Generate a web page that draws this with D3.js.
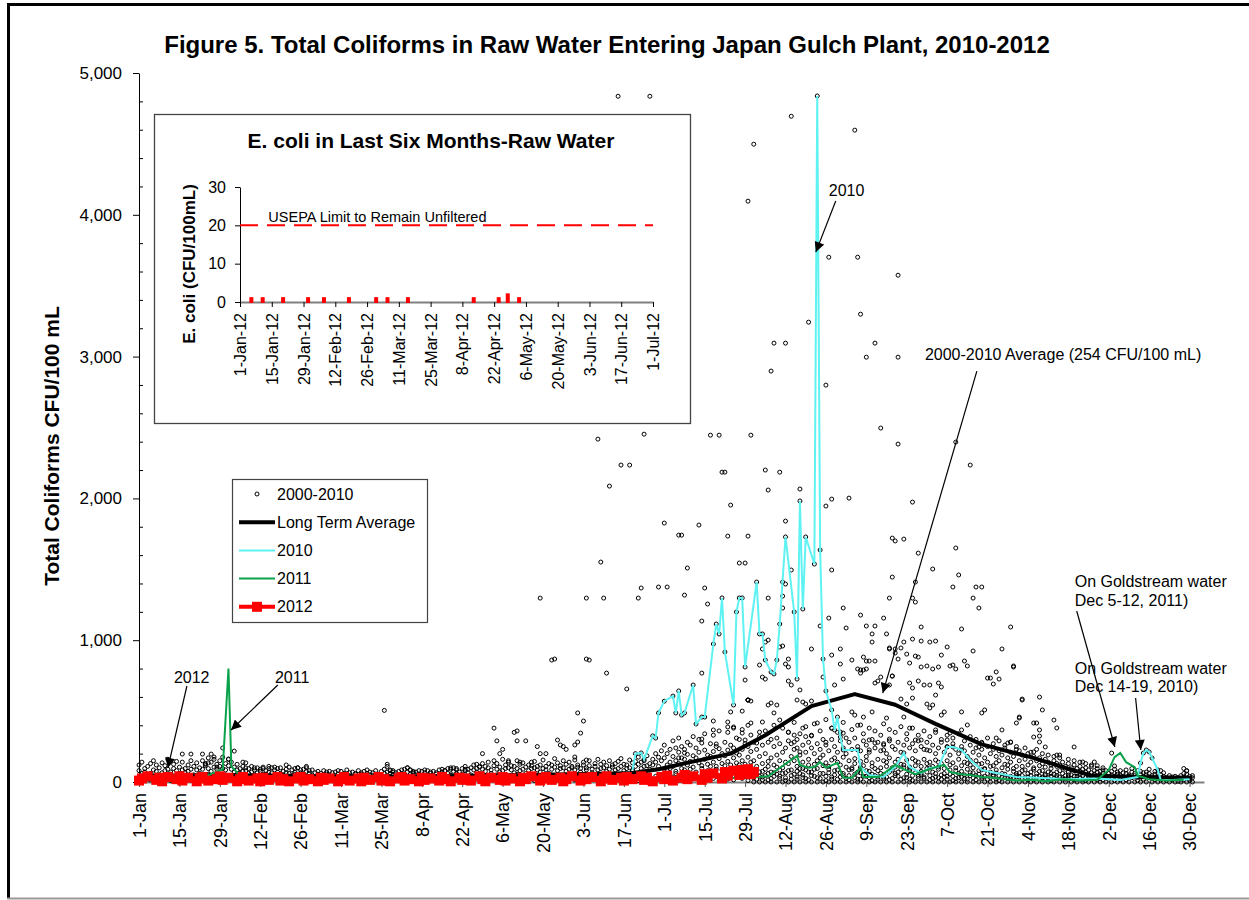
<!DOCTYPE html>
<html>
<head>
<meta charset="utf-8">
<title>Figure 5. Total Coliforms in Raw Water Entering Japan Gulch Plant</title>
<script src="https://cdn.jsdelivr.net/npm/d3@7"></script>
<style>
  html, body { margin: 0; padding: 0; background: #fff; }
  svg { display: block; font-family: "Liberation Sans", Arial, sans-serif; }
</style>
</head>
<body>
<div id="chart"></div>
<script>
// ---- data (day of year: 0 = 1-Jan) ----
const xTickLabels = ["1-Jan","15-Jan","29-Jan","12-Feb","26-Feb","11-Mar","25-Mar","8-Apr","22-Apr",
  "6-May","20-May","3-Jun","17-Jun","1-Jul","15-Jul","29-Jul","12-Aug","26-Aug","9-Sep","23-Sep",
  "7-Oct","21-Oct","4-Nov","18-Nov","2-Dec","16-Dec","30-Dec"];
const yTicks = [0, 1000, 2000, 3000, 4000, 5000];

// 2000-2010 samples, the dense low band: one list of values per day
const lowBand = [
  // Jan
  [30,80,120],[10,60,140],[45,95,70],[20,110,55],[60,130,15],[35,85,150],[5,75,120],
  [50,100,25],[15,65,135],[40,115,80],[25,90,160],[55,70,10],[30,125,95],[10,80,145],
  [45,105,60],[20,140,85],[65,95,30],[35,120,75],[15,90,150],[50,110,40],[25,135,85],
  [60,100,15],[40,150,90],[10,115,130],[55,95,170],[30,140,75],[20,105,160],[45,125,90],
  [35,150,110],[15,95,175],[50,130,85],
  // Feb
  [25,115,160],[40,90,140],[10,105,70],[55,125,85],[30,95,60],[20,110,75],[45,80,100],
  [15,95,60],[35,70,110],[50,85,25],[10,100,65],[40,75,90],[25,105,55],[55,80,15],
  [30,95,70],[20,65,100],[45,85,30],[15,70,95],[35,100,60],[50,75,20],[10,90,65],
  [40,60,105],[25,85,45],[55,70,95],[30,100,15],[20,65,85],[45,90,55],[15,75,100],[35,60,80],
  // Mar - Apr
  [50,85,20],[10,65,40],[30,75,55],[45,60,15],[20,80,35],[55,70,10],[25,50,75],
  [40,65,15],[15,70,45],[35,55,80],[50,75,20],[10,60,40],[30,85,55],[45,65,15],
  [20,70,40],[55,60,25],[35,80,10],[15,55,65],[40,75,30],[25,60,85],[50,70,15],
  [10,65,45],[30,80,55],[45,55,20],[20,75,40],[35,90,60],[15,70,110],[40,60,85],
  [25,80,50],[50,65,20],[10,75,45],[30,60,85],[45,90,15],[20,70,100],[35,85,55],
  [15,60,75],[50,70,30],[25,55,80],[40,75,10],[10,65,85],[30,80,45],[45,60,70],
  [20,75,35],[55,65,15],[35,85,50],[15,70,90],[40,80,25],[25,60,95],[50,90,45],
  [10,75,100],[30,85,60],[45,70,20],[20,95,55],[35,80,110],[15,65,90],[50,100,40],
  [25,85,120],[40,70,95],[10,105,60],[30,90,130],[45,75,110],
  // May
  [20,100,140],[35,85,60],[15,115,150],[50,90,130],[25,105,70],[40,80,160],[10,120,95],
  [30,100,140],[45,85,115],[20,110,65],[55,95,150],[35,125,80],[15,90,135],[40,105,60],
  [25,80,120],[50,115,95],[10,100,145],[30,85,110],[45,120,70],[20,95,155],[35,110,85],
  [15,130,60],[50,90,120],[25,105,165],[40,80,135],[10,115,95],[30,100,150],[45,125,75],
  [20,90,140],[35,110,100],[15,85,155],
  // Jun
  [40,105,120],[25,95,70],[50,120,140],[10,100,85],[30,115,150],[45,90,65],[20,110,130],
  [35,85,160],[15,125,95],[40,100,140],[25,115,75],[50,90,150],[10,105,120],[30,130,85],
  [45,95,145],[20,110,165],[35,80,125],[15,120,95],[40,100,155],[25,135,80],[50,110,145],
  [10,125,175],[30,95,140],[45,150,110],[20,115,185],[35,130,90],[15,160,120],[40,140,200],
  [25,175,110],[50,150,220],
  // Jul
  [20,90,170,260],[45,120,200,80],[10,140,230,95],[35,110,180,290],[60,150,240,75],[15,130,210,310],[40,95,170,250],
  [25,160,230,85],[55,120,195,280],[10,145,260,90],[30,105,185,320],[50,170,240,70],[20,135,210,300],[45,115,275,95],
  [15,160,225,340],[35,125,190,80],[60,180,270,110],[25,140,215,330],[40,110,250,90],[10,165,235,360],[55,130,200,85],
  [30,185,280,115],[20,145,225,350],[45,120,260,95],[15,170,240,380],[35,135,205,100],[50,190,300,120],[25,150,230,370],
  [40,125,270,90],[10,175,250,400],[60,140,215,110],
  // Aug - Sep
  [0,60,150,280,30],[20,110,230,90,50],[0,40,180,320,70],[35,130,260,75,15],[0,90,200,360,45],[15,145,280,60,110],[0,70,170,300,25],
  [40,120,250,400,65],[0,55,190,310,105],[25,150,270,85,40],[0,100,210,380,60],[10,65,240,140,30],[0,130,290,350,80],[45,85,180,270,20],
  [0,150,230,420,55],[20,110,300,75,35],[0,60,190,340,95],[30,140,260,95,50],[0,85,210,390,25],[15,160,280,120,70],[0,70,240,330,45],
  [40,125,200,410,90],[0,95,270,150,30],[25,170,230,360,60],[0,60,190,300,115],[10,135,280,440,40],[0,110,220,90,65],[35,155,300,380,20],
  [0,80,250,170,50],[20,140,210,350,85],[0,65,290,120,35],[45,175,240,420,60],[0,105,200,310,25],[15,150,280,85,45],[0,90,230,370,100],
  [30,165,310,130,55],[0,70,250,400,20],[20,145,220,95,65],[0,115,290,340,40],[40,180,260,150,80],[0,75,210,380,30],[10,135,300,110,55],
  [0,95,240,360,45],[35,160,280,80,20],[0,60,220,330,100],[25,150,270,410,50],[0,110,200,140,35],[15,170,290,370,70],[0,85,250,100,25],
  [45,140,230,350,60],[0,70,280,160,40],[20,125,210,390,90],[0,100,260,120,30],[30,155,300,340,55],[0,80,240,90,20],[10,165,270,380,45],
  [0,115,220,150,65],[40,140,290,330,25],[0,75,250,110,50],[25,160,230,360,35],[0,95,280,130,70],
  // Oct
  [15,140,220,320,45],[0,70,260,110,25],[35,155,200,350,60],[0,90,240,140,30],[20,130,280,300,50],[0,60,210,95,35],[40,150,250,330,20],
  [0,85,190,120,55],[10,135,270,310,40],[0,100,230,80,25],[30,160,200,340,60],[0,75,250,115,35],[25,140,220,290,50],[0,90,180,130,20],
  [45,120,260,320,65],[0,65,210,100,30],[15,150,240,300,45],[0,80,190,125,55],[35,130,230,280,25],[0,95,170,90,40],[20,140,250,310,60],
  [0,70,200,110,30],[40,115,230,270,50],[0,85,180,135,20],[10,150,220,290,45],[0,60,190,100,35],[30,125,240,260,55],[0,90,170,120,25],
  [25,140,210,280,40],[0,75,180,95,30],[45,110,230,250,60],
  // Nov
  [0,65,150,220,35],[20,110,190,80,45],[0,85,160,240,30],[35,120,200,60,15],[0,70,140,210,45],[15,100,180,90,30],[0,60,150,230,40],
  [40,115,170,75,20],[0,80,130,200,35],[25,105,160,55,45],[0,70,140,190,30],[10,95,120,60,40],[0,55,150,180,25],[30,110,130,70,45],
  [0,80,120,170,35],[20,60,100,140,30],[0,90,110,45,20],[35,70,130,160,50],[0,50,100,85,25],[15,80,120,150,40],[0,60,95,40,20],
  [25,75,110,140,35],[0,45,90,65,15],[10,70,100,130,30],[0,55,85,30,45],[20,65,110,120,25],[0,40,80,55,30],[30,70,95,115,15],
  [0,50,75,25,40],[15,60,100,85,30],
  // Dec
  [0,45,80],[20,60,35],[0,75,50],[10,40,90],[0,55,70],[25,80,45],[0,35,65],
  [15,60,85],[0,50,40],[30,70,95],[0,45,60],[10,80,35],[0,55,75],[20,40,65],
  [0,70,50],[35,60,90],[0,45,30],[15,75,55],[0,35,60],[25,50,80],[0,65,40],
  [10,30],[0,45],[20,35],[0,40],[5,30],[0,45,20],[15,35,60],
  [0,55,80],[10,40,25],[0,30,45]
];

// 2000-2010 samples above the low band: [day, CFU/100 mL]
const obsHigh = [
  [15,197],[18,197],[22,197],[25,197],[26,176],[29,240],[33,218],[23,125],[24,135],[31,162],[36,140],[37,135],
  [27,105],[40,100],[43,95],[45,110],[47,105],[51,120],[55,100],[58,110],[85,505],[86,125],[87,80],[88,70],
  [93,100],[94,85],[95,70],[106,80],[108,100],[110,95],[113,90],[117,125],[119,200],[118,110],
  [123,380],[124,290],[125,200],[126,230],[128,150],[130,350],[131,360],[131,290],[132,140],[134,290],[136,140],
  [138,250],[139,200],[141,200],[139,1297],[143,860],[144,867],[145,296],[146,261],[147,250],[148,230],[151,176],
  [151,261],[152,487],[152,282],[153,345],[154,430],[155,867],[155,155],
  [155,1297],[156,860],[159,2418],[160,1551],[161,1297],[162,768],[163,2087],[166,4836],[167,2235],[169,656],
  [170,2235],[173,1297],[174,1368],[175,2453],[177,4836],[180,1375],[183,1375],
  [182,1826],[187,1741],[188,1741],[189,1318],[190,3910],[190,1509],[194,1812],[195,1135],[195,768],[196,1368],
  [197,1255],[198,2446],[201,2446],[202,2185],[203,2185],[204,1734],[205,1953],[208,1544],[210,1544],[210,719],
  [211,1734],[211,4096],[211,578],[212,2446],[212,571],
  [187,170],[189,205],[195,303],[199,367],[199,430],[200,268],[204,423],[204,388],[205,494],[206,388],[207,310],
  [209,500],[209,345],[210,296],[211,578],[212,416],[212,331],[214,275],[215,352],
  [213,4498],[226,4695],[248,4597],[239,3701],[249,3701],[263,3574],[250,3299],[232,3243],[220,3095],[224,3095],
  [255,3095],[252,2996],[263,2996],[219,2898],[238,2799],[257,2496],[263,2383],[283,2397],[288,2235],[217,2200],
  [222,2185],[218,2059],[229,2066],[268,1974],[224,1840],[238,1946],[240,1995],[246,2002],[261,1720],[262,1700],
  [265,1713],[270,1614],[283,1650],[275,1502],[261,1445],[284,1460],[282,1375],[290,1375],[292,1375],[269,1410],
  [268,1297],[269,1269],[260,1297],[289,1297],[291,1227],[226,1495],[240,1495],[218,1297],[223,1410],[224,1396],
  [223,1311],[223,1227],[244,1227],[258,1156],[236,1100],[239,1156],[245,1086],[250,1177],[252,1100],[255,1100],
  [254,1044],[259,1044],[302,1093],[285,1079],[271,1093],
  [217,987],[218,1001],[216,938],[233,938],[254,987],[260,938],[222,952],[223,959],[215,825],[225,867],[224,832],
  [225,811],[240,895],[243,938],[243,832],[247,860],[249,797],[250,768],[251,790],[252,797],[251,881],[253,853],
  [237,740],[255,698],[256,712],[257,740],[260,684],[261,747],[216,740],[217,726],[225,712],[226,684],[229,649],
  [241,684],[244,726],[211,578],[218,543],[221,543],[228,578],[230,564],[231,550],[233,571],
  [265,987],[268,1008],[271,994],[274,987],[276,994],[280,952],[299,938],[289,924],[260,945],[262,938],[262,910],
  [264,945],[263,867],[266,902],[269,888],[270,881],[278,895],[267,839],[271,811],[273,818],[275,797],[277,811],
  [281,818],[282,825],[283,797],[286,853],[287,818],[303,818],[252,853],[255,853],[250,790],[261,747],[294,733],
  [295,733],[298,726],[297,776],[296,691],[267,698],[268,663],[270,712],[272,684],[274,684],[277,698],[278,670],
  [276,613],[312,599],[306,585],[264,585],[266,550],[268,592],[273,550],[274,522],[275,543],[279,494],[278,472],
  [285,494],[292,487],[293,508],[313,508],[305,458],[317,437],[254,494],[259,451],[265,458],
  [216,423],[219,557],[220,487],[222,437],[225,352],[227,282],[227,331],[228,240],[229,212],[230,380],[231,320],
  [233,325],[235,416],[238,261],[240,380],[243,352],[244,345],[247,494],[248,472],[250,402],[251,458],[253,296],
  [253,226],[255,275],[258,226],[258,261],[260,303],[267,380],[269,296],[271,296],[273,226],[276,367],[280,296],
  [281,345],[285,367],[287,402],[291,247],[292,275],[297,310],[299,367],[302,282],[306,578],[311,416],[310,317],
  [301,275],[303,811],[304,416],[305,451],[310,416],[310,212],[312,324],[312,282],[312,367],[314,247],[318,381],
  [318,190],[319,190],[324,247],[327,141],[331,141],[337,204],[338,113],[363,78],[362,95]
];

// Long term average
const ltaAvg = [[0,45],[15,45],[30,50],[45,45],[60,40],[75,35],[90,35],[105,40],[120,45],[135,50],[150,55],
  [165,60],[171,63],[180,90],[191,140],[205,200],[217,330],[233,535],[248,620],[262,545],[276,410],[292,265],
  [309,175],[321,100],[330,45],[345,35],[365,30]];

// 2010
const y2010 = [[171,85],[172,200],[174,205],[175,160],[178,325],[179,310],[180,487],[182,570],[185,606],
  [186,487],[187,642],[188,472],[189,487],[192,684],[193,409],[195,458],[196,458],[199,973],[200,1114],
  [201,1044],[202,1298],[203,917],[206,543],[207,1199],[208,1298],[209,1298],[210,811],[214,1410],[215,1044],
  [216,1044],[217,860],[219,776],[220,762],[221,860],[222,1114],[224,1728],[227,1199],[228,726],[229,1982],
  [230,1220],[231,1728],[234,1537],[235,4838],[236,1636],[237,867],[238,642],[240,508],[241,367],[242,458],
  [243,317],[244,226],[249,226],[250,106],[253,50],[258,35],[262,106],[265,205],[267,106],[271,63],[274,99],
  [277,106],[280,247],[282,247],[285,226],[288,155],[292,85],[297,63],[304,35],[313,28],[322,20],[331,25],
  [340,15],[346,35],[347,134],[348,204],[349,226],[350,212],[351,169],[353,85],[354,14],[358,14],[364,20]];

// 2011
const y2011 = [[0,20],[8,35],[15,10],[22,30],[29,90],[31,800],[32,110],[36,25],[43,15],[50,30],[57,10],
  [64,25],[71,15],[78,30],[85,10],[92,20],[99,35],[106,15],[113,25],[120,10],[127,30],[134,20],[141,35],
  [148,15],[155,25],[162,40],[169,20],[176,35],[183,15],[190,30],[197,45],[204,25],[211,40],[214,35],
  [218,40],[221,85],[228,185],[229,120],[232,100],[234,105],[236,140],[238,100],[242,135],[244,30],[247,30],
  [250,100],[251,35],[256,35],[258,60],[262,120],[265,90],[269,55],[273,85],[276,105],[279,120],[281,70],
  [285,55],[288,50],[292,35],[296,30],[304,10],[310,15],[314,5],[320,20],[326,10],[332,15],[336,85],
  [338,175],[340,205],[342,140],[345,105],[346,45],[350,20],[356,10],[362,15]];

// 2012
const y2012 = [[0,10],[1,25],[3,40],[6,15],[7,30],[8,5],[10,35],[13,20],[14,40],[15,10],[17,30],[20,5],
  [21,25],[22,35],[24,10],[27,20],[28,40],[29,15],[31,30],[34,5],[35,20],[36,35],[38,10],[41,25],[42,5],
  [43,30],[45,15],[48,35],[49,10],[50,20],[52,5],[55,25],[56,35],[57,10],[59,20],[62,5],[63,30],[64,15],
  [66,25],[69,5],[70,20],[71,35],[73,10],[76,25],[77,5],[78,30],[80,15],[83,35],[84,10],[85,20],[87,5],
  [90,25],[91,35],[92,10],[94,20],[97,5],[98,30],[99,15],[101,25],[104,10],[105,35],[106,20],[108,5],
  [111,30],[112,15],[113,25],[115,10],[118,40],[119,20],[120,5],[122,30],[125,15],[126,35],[127,10],
  [129,25],[132,5],[133,30],[134,20],[136,40],[139,10],[140,25],[141,35],[143,15],[146,30],[147,5],
  [148,20],[150,40],[153,10],[154,30],[155,20],[157,35],[160,5],[161,25],[162,40],[164,15],[167,30],
  [168,10],[169,35],[171,20],[174,40],[175,15],[176,30],[178,5],[181,35],[182,20],[183,45],[185,10],
  [188,30],[189,50],[190,20],[192,40],[195,15],[196,55],[197,30],[199,60],[202,25],[203,70],[204,45],
  [206,80],[208,50],[209,85],[210,60],[211,90],[212,55],[213,70]];

// inset: E. coli in 2012 (day of 2012, CFU/100mL)
const insetTickLabels = ["1-Jan-12","15-Jan-12","29-Jan-12","12-Feb-12","26-Feb-12","11-Mar-12",
  "25-Mar-12","8-Apr-12","22-Apr-12","6-May-12","20-May-12","3-Jun-12","17-Jun-12","1-Jul-12"];
const ecoliDays = [5,10,19,30,37,48,60,65,74,103,114,118,123];
const ecoliVals = [1,1,1,1,1,1,1,1,1,1,1,2,1];
const usepaLimit = 20;

const legendItems = ["2000-2010", "Long Term Average", "2010", "2011", "2012"];

const notes = [
  { text: ["2012"], at: [12.1, 698], from: [16.6, 677], to: [10, 99] },
  { text: ["2011"], at: [47.1, 698], from: [48.1, 684], to: [31.9, 367] },
  { text: ["2010"], at: [239, 4132], from: [241.4, 4097], to: [234.5, 3737] },
  { text: ["2000-2010 Average (254 CFU/100 mL)"], at: [272.3, 2975], from: [290.3, 2898], to: [257.7, 627] },
  { text: ["On Goldstream water", "Dec 5-12, 2011)"], at: [324.2, 1375], from: [324.9, 1206], to: [338.1, 247] },
  { text: ["On Goldstream water", "Dec 14-19, 2010)"], at: [324.2, 762], from: [345.3, 592], to: [347.1, 226] }
];

// ---- drawing ----
const W = 1249, H = 900;
const CYAN = "#5ef2f2", GREEN = "#0aa24a", RED = "#ff0000";

const svg = d3.select("#chart").append("svg")
  .attr("width", W)
  .attr("height", H);

svg.append("rect").attr("width", W).attr("height", H).attr("fill", "#fff");

// outer frame
svg.append("path")
  .attr("d", "M8.5,898 V4.5 H1249")
  .attr("fill", "none").attr("stroke", "#000").attr("stroke-width", 3);
svg.append("line")
  .attr("x1", 7).attr("x2", W).attr("y1", 898.5).attr("y2", 898.5)
  .attr("stroke", "#999").attr("stroke-width", 2);

const x = d3.scaleLinear().domain([0, 369]).range([139, 1204]);
const y = d3.scaleLinear().domain([0, 5000]).range([782, 73]);

// title
svg.append("text")
  .attr("x", 607).attr("y", 53)
  .attr("text-anchor", "middle")
  .attr("font-size", "24px").attr("font-weight", "bold")
  .text("Figure 5. Total Coliforms in Raw Water Entering Japan Gulch Plant, 2010-2012");

// y axis title
svg.append("text")
  .attr("transform", "translate(59,446) rotate(-90)")
  .attr("text-anchor", "middle")
  .attr("font-size", "21px").attr("font-weight", "bold")
  .text("Total Coliforms CFU/100 mL");

// x axis
const xAxis = d3.axisBottom(x)
  .tickValues(xTickLabels.map((d, i) => i * 14))
  .tickFormat((d, i) => xTickLabels[i])
  .tickSize(5).tickSizeOuter(0);
const gx = svg.append("g")
  .attr("transform", `translate(0,${y(0)})`)
  .call(xAxis);
gx.select(".domain").attr("stroke", "#808080").attr("stroke-width", 2);
gx.selectAll(".tick line").attr("stroke", "#555");
gx.selectAll("text")
  .attr("font-size", "18px")
  .attr("font-family", "Liberation Sans, Arial, sans-serif")
  .attr("fill", "#000")
  .attr("transform", "rotate(-90)")
  .attr("text-anchor", "end")
  .attr("x", -11).attr("y", 0).attr("dy", "0.35em");

// y axis
const gy = svg.append("g")
  .attr("transform", `translate(${x(0)},0)`)
  .call(d3.axisLeft(y).tickValues(yTicks).tickFormat(d3.format(",")).tickSize(6).tickPadding(11).tickSizeOuter(0));
gy.selectAll("text")
  .attr("font-size", "17px")
  .attr("font-family", "Liberation Sans, Arial, sans-serif")
  .attr("fill", "#000");
svg.append("g")
  .attr("transform", `translate(${x(0)},0)`)
  .call(d3.axisRight(y).tickValues(d3.range(200, 5000, 200).filter(v => v % 1000)).tickFormat("").tickSize(4).tickSizeOuter(0))
  .select(".domain").remove();

const line = d3.line().x(d => x(d[0])).y(d => y(d[1]));

// series in legend order: samples, long term average, 2010, 2011, 2012 on top
const obsAll = lowBand.flatMap((vals, d) => vals.map(v => [d, v])).concat(obsHigh, y2010);
svg.append("g").selectAll("circle").data(obsAll).join("circle")
  .attr("cx", d => x(d[0])).attr("cy", d => y(d[1]))
  .attr("r", 2).attr("fill", "none")
  .attr("stroke", "#000").attr("stroke-width", 1);

svg.append("path").datum(ltaAvg)
  .attr("d", line).attr("fill", "none")
  .attr("stroke", "#000").attr("stroke-width", 4).attr("stroke-linejoin", "round");

svg.append("path").datum(y2010)
  .attr("d", line).attr("fill", "none")
  .attr("stroke", CYAN).attr("stroke-width", 2);

svg.append("path").datum(y2011)
  .attr("d", line).attr("fill", "none")
  .attr("stroke", GREEN).attr("stroke-width", 2);

svg.append("path").datum(y2012)
  .attr("d", line).attr("fill", "none")
  .attr("stroke", RED).attr("stroke-width", 6).attr("stroke-linejoin", "round");
svg.append("g").selectAll("rect").data(y2012).join("rect")
  .attr("x", d => x(d[0]) - 5).attr("y", d => y(d[1]) - 5)
  .attr("width", 10).attr("height", 10).attr("fill", RED);

// ---- inset chart ----
const inset = svg.append("g");
inset.append("rect")
  .attr("x", 154.5).attr("y", 114.5).attr("width", 536).attr("height", 309)
  .attr("fill", "#fff").attr("stroke", "#444").attr("stroke-width", 1.3);

const ix = d3.scaleLinear().domain([0, 182]).range([240, 653]);
const iy = d3.scaleLinear().domain([0, 30]).range([302, 187]);

inset.append("text")
  .attr("x", 431).attr("y", 148)
  .attr("text-anchor", "middle")
  .attr("font-size", "21px").attr("font-weight", "bold")
  .text("E. coli in Last Six Months-Raw Water");

inset.append("text")
  .attr("transform", "translate(195,264) rotate(-90)")
  .attr("text-anchor", "middle")
  .attr("font-size", "17px").attr("font-weight", "bold")
  .text("E. coli (CFU/100mL)");

const igx = inset.append("g")
  .attr("transform", `translate(0,${iy(0)})`)
  .call(d3.axisBottom(ix).tickValues(insetTickLabels.map((d, i) => i * 14))
    .tickFormat((d, i) => insetTickLabels[i]).tickSize(5).tickSizeOuter(0));
igx.select(".domain").attr("stroke", "#808080").attr("stroke-width", 2);
igx.selectAll("text")
  .attr("font-size", "16px")
  .attr("font-family", "Liberation Sans, Arial, sans-serif")
  .attr("fill", "#000")
  .attr("transform", "rotate(-90)")
  .attr("text-anchor", "end")
  .attr("x", -11).attr("y", 0).attr("dy", "0.35em");

const igy = inset.append("g")
  .attr("transform", `translate(${ix(0)},0)`)
  .call(d3.axisLeft(iy).tickValues([0, 10, 20, 30]).tickSize(5).tickPadding(9).tickSizeOuter(0));
igy.selectAll("text")
  .attr("font-size", "16px")
  .attr("font-family", "Liberation Sans, Arial, sans-serif")
  .attr("fill", "#000");

inset.append("line")
  .attr("x1", ix(0)).attr("x2", ix(182))
  .attr("y1", iy(usepaLimit)).attr("y2", iy(usepaLimit))
  .attr("stroke", RED).attr("stroke-width", 2).attr("stroke-dasharray", "18,9");
inset.append("text")
  .attr("x", ix(12.5)).attr("y", iy(usepaLimit) - 3)
  .attr("font-size", "14.5px")
  .text("USEPA Limit to Remain Unfiltered");

inset.append("g").selectAll("rect").data(ecoliDays).join("rect")
  .attr("x", (d) => ix(d) - 2)
  .attr("y", (d, i) => iy(ecoliVals[i]) - 1)
  .attr("width", 4)
  .attr("height", (d, i) => iy(0) - iy(ecoliVals[i]) + 2)
  .attr("fill", RED);

// ---- legend ----
const lg = svg.append("g");
lg.append("rect")
  .attr("x", 232.5).attr("y", 479.5).attr("width", 195).attr("height", 143)
  .attr("fill", "#fff").attr("stroke", "#444").attr("stroke-width", 1.2);
legendItems.forEach((name, i) => {
  const cy = 494 + i * 28.2;
  const g = lg.append("g");
  if (i === 0) {
    g.append("circle").attr("cx", 257).attr("cy", cy).attr("r", 2)
      .attr("fill", "none").attr("stroke", "#000").attr("stroke-width", 1);
  } else {
    const col = [null, "#000", CYAN, GREEN, RED][i];
    const sw = [0, 4, 2, 2, 4][i];
    g.append("line").attr("x1", 239).attr("x2", 275).attr("y1", cy).attr("y2", cy)
      .attr("stroke", col).attr("stroke-width", sw);
    if (i === 4) {
      g.append("rect").attr("x", 252).attr("y", cy - 5).attr("width", 10).attr("height", 10).attr("fill", RED);
    }
  }
  g.append("text").attr("x", 277).attr("y", cy + 5.5)
    .attr("font-size", "16px").text(name);
});

// ---- annotations ----
const defs = svg.append("defs");
defs.append("marker")
  .attr("id", "arrowhead")
  .attr("viewBox", "0 0 10 10")
  .attr("refX", 10).attr("refY", 5)
  .attr("markerUnits", "userSpaceOnUse")
  .attr("markerWidth", 12).attr("markerHeight", 10)
  .attr("orient", "auto")
  .append("path").attr("d", "M0,0 L10,5 L0,10 z").attr("fill", "#000");

notes.forEach(n => {
  svg.append("line")
    .attr("x1", x(n.from[0])).attr("y1", y(n.from[1]))
    .attr("x2", x(n.to[0])).attr("y2", y(n.to[1]))
    .attr("stroke", "#000").attr("stroke-width", 1.2)
    .attr("marker-end", "url(#arrowhead)");
  const t = svg.append("text")
    .attr("x", x(n.at[0])).attr("y", y(n.at[1]))
    .attr("font-size", "16px");
  n.text.forEach((s, i) => {
    t.append("tspan").attr("x", x(n.at[0])).attr("dy", i === 0 ? 0 : 18.5).text(s);
  });
});
</script>
</body>
</html>
